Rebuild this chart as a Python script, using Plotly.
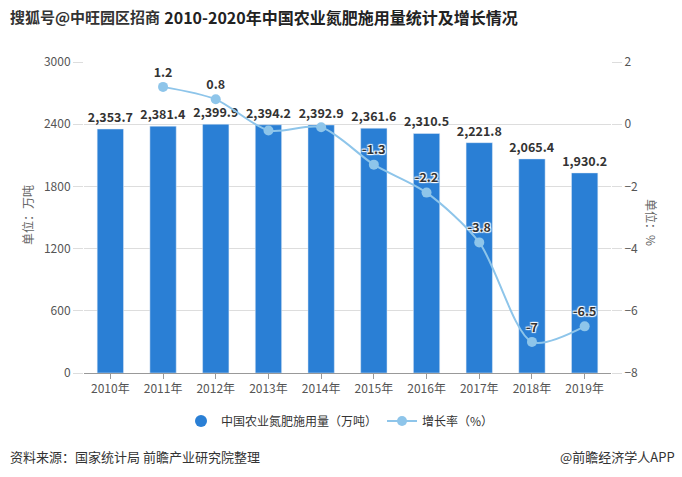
import plotly.graph_objects as go

years = ["2010年", "2011年", "2012年", "2013年", "2014年", "2015年", "2016年", "2017年", "2018年", "2019年"]
usage = [2353.7, 2381.4, 2399.9, 2394.2, 2392.9, 2361.6, 2310.5, 2221.8, 2065.4, 1930.2]
growth = [None, 1.2, 0.8, -0.2, -0.1, -1.3, -2.2, -3.8, -7, -6.5]
growth_labels = ["", "1.2", "0.8", "", "", "-1.3", "-2.2", "-3.8", "-7", "-6.5"]

FONT = "Noto Sans CJK SC, Microsoft YaHei, sans-serif"
BAR_C = "#2A7FD5"
LINE_C = "#8EC5EA"

W, H = 682, 477
l, r, t, b = 84, 71, 62, 104
pw, ph = W - l - r, H - t - b

fig = go.Figure()
fig.add_trace(go.Bar(
    x=years, y=usage, marker_color=BAR_C, width=0.5, showlegend=False,
    text=[f"{v:,.1f}" for v in usage], textposition="outside", cliponaxis=False,
    constraintext="none",
    textfont=dict(size=12.5, color="#333", family=FONT, weight="bold"),
))
fig.add_trace(go.Scatter(
    x=[years[0]], y=[None], mode="markers", name="中国农业氮肥施用量（万吨）",
    marker=dict(symbol="circle", size=12, color=BAR_C),
))
fig.add_trace(go.Scatter(
    x=years, y=growth, yaxis="y2", mode="lines+markers+text", name="增长率（%）",
    line=dict(color=LINE_C, width=2, shape="spline", smoothing=0.8),
    marker=dict(size=10, color=LINE_C),
    text=growth_labels, textposition="top center", cliponaxis=False,
    textfont=dict(size=12.5, color="#333", family=FONT, weight="bold",
                  shadow="1px 1px 1px #fff, -1px -1px 1px #fff, 1px -1px 1px #fff, -1px 1px 1px #fff"),
))


def px_ann(text, x, y, size=12, color="#333", xanchor="center", angle=0):
    return dict(text=text, xref="paper", yref="paper",
                x=(x - l) / pw, y=(H - b - y) / ph, showarrow=False,
                xanchor=xanchor, yanchor="middle", textangle=angle,
                font=dict(size=size, color=color, family=FONT))


fig.update_layout(
    width=W, height=H,
    margin=dict(l=l, r=r, t=t, b=b, autoexpand=False),
    paper_bgcolor="white", plot_bgcolor="white",
    font=dict(family=FONT, size=12, color="#555"),
    title=dict(text="<b>2010-2020年中国农业氮肥施用量统计及增长情况</b>", x=0.5, xanchor="center",
               y=1 - 18 / H, yanchor="middle", font=dict(size=16, color="#222", family=FONT)),
    xaxis=dict(range=[-0.5, len(years) - 0.5], autorange=False,
               showline=True, linecolor="#999", ticks="outside", ticklen=5, tickcolor="#999",
               tickfont=dict(size=12, color="#555"), showgrid=False),
    yaxis=dict(range=[0, 3000], tickvals=[0, 600, 1200, 1800, 2400, 3000], showgrid=True,
               gridcolor="#ddd", zeroline=False, ticks="outside", ticklen=10, tickcolor="#ddd",
               tickfont=dict(size=12, color="#555")),
    yaxis2=dict(range=[-8, 2], tickvals=[-8, -6, -4, -2, 0, 2], overlaying="y", side="right",
                showgrid=False, zeroline=False, ticks="outside", ticklen=10, tickcolor="#ddd",
                tickfont=dict(size=12, color="#555")),
    legend=dict(orientation="h", x=(340 - l) / pw, xanchor="center", y=(H - b - 421) / ph,
                yanchor="middle", font=dict(size=12, color="#333"), itemwidth=30),
    annotations=[
        px_ann("单位：万吨", 27, 215, color="#666", angle=-90),
        px_ann("单位：%", 652, 222, color="#666", angle=90),
        px_ann("<b>搜狐号@中旺园区招商</b>", 8, 17, size=15, color="#333", xanchor="left"),
        px_ann("资料来源：国家统计局 前瞻产业研究院整理", 8, 456, size=13, xanchor="left"),
        px_ann("@前瞻经济学人APP", 677, 456, size=13, xanchor="right"),
    ],
)

fig.write_html("out.html", config={"displayModeBar": False},
               post_script="document.body.style.margin='0';document.body.style.overflow='hidden';")
